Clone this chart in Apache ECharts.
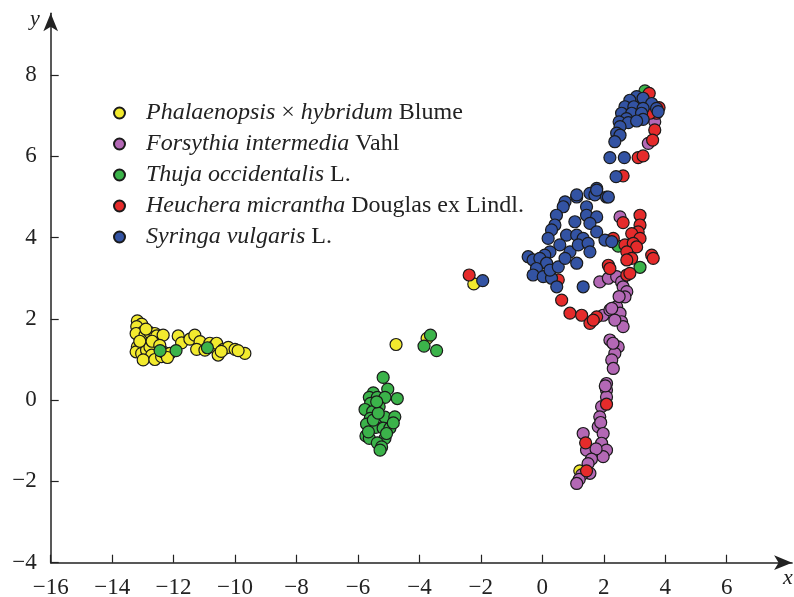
<!DOCTYPE html>
<html><head><meta charset="utf-8">
<script src="https://cdn.jsdelivr.net/npm/echarts@6/dist/echarts.min.js"></script>
<style>html,body{margin:0;padding:0;background:#fff}#c{width:794px;height:597px}</style>
</head><body><div id="c"></div>
<script>
const xTicks = [-16,-14,-12,-10,-8,-6,-4,-2,0,2,4,6];
const yTicks = [-4,-2,0,2,4,6,8];
const seriesNames = ['Phalaenopsis', 'Forsythia', 'Thuja', 'Heuchera', 'Syringa'];
const legendLabels = [
  '{i|Phalaenopsis} × {i|hybridum} Blume',
  '{i|Forsythia intermedia} Vahl',
  '{i|Thuja occidentalis} L.',
  '{i|Heuchera micrantha} Douglas ex Lindl.',
  '{i|Syringa vulgaris} L.'
];
const yellowPts = [
[-13.18,1.95],[-13.04,1.87],[-13.20,1.81],[-12.99,1.68],[-13.22,1.64],[-12.93,1.60],[-12.77,1.66],[-12.61,1.64],[-12.55,1.58],[-12.34,1.60],
[-13.01,1.36],[-13.18,1.31],[-13.22,1.19],[-13.04,1.15],[-12.88,1.23],[-12.77,1.31],[-12.71,1.11],[-12.99,0.99],[-12.61,1.00],[-12.39,1.07],
[-12.34,1.19],[-12.12,1.15],[-11.85,1.58],[-11.74,1.41],[-11.47,1.50],[-11.31,1.60],[-11.14,1.44],[-11.25,1.25],[-10.98,1.23],[-10.82,1.40],
[-10.71,1.31],[-10.60,1.40],[-10.55,1.11],[-10.38,1.25],[-10.22,1.30],[-10.00,1.25],[-9.68,1.15],[-12.90,1.75],[-13.10,1.45],[-12.70,1.45],
[-12.45,1.35],[-12.20,1.05],[-10.45,1.20],[-9.90,1.22],
[-4.76,1.37],[-3.75,1.52],[-2.23,2.86],[1.22,-1.74]
];
const purplePts = [
[3.66,6.85],[3.45,6.32],
[2.53,4.51],[1.87,2.91],[2.15,3.00],[2.42,3.04],[2.58,2.91],[2.63,2.79],[2.75,2.67],[2.69,2.54],[1.98,2.09],[2.20,2.22],[2.42,2.30],[2.53,2.14],
[2.58,1.93],[2.63,1.81],[2.36,1.97],[2.26,2.26],[2.50,2.55],
[2.20,1.48],[2.47,1.31],[2.36,1.15],[2.26,0.99],[2.31,0.78],[2.30,1.40],[2.09,0.41],[2.09,0.25],[2.09,0.08],[2.05,0.35],[1.93,-0.16],
[1.87,-0.41],[1.82,-0.65],[1.90,-0.55],[1.98,-0.82],[1.33,-0.82],[1.93,-1.06],[2.09,-1.23],[1.71,-1.31],[1.44,-1.23],[1.98,-1.39],
[1.75,-1.20],[1.60,-1.45],[1.49,-1.56],[1.55,-1.80],[1.28,-1.84],[1.20,-1.95],[1.12,-2.05]
];
const greenPts = [
[-12.44,1.22],[-11.92,1.22],[-10.90,1.29],[-3.64,1.60],[-3.85,1.33],[-3.44,1.22],
[-5.18,0.56],[-5.03,0.27],[-4.72,0.04],[-5.50,0.18],[-5.63,0.07],[-5.37,0.07],[-5.12,0.07],[-5.59,-0.08],[-5.31,-0.16],[-5.77,-0.23],
[-5.52,-0.28],[-5.60,-0.45],[-5.12,-0.42],[-4.80,-0.41],[-5.72,-0.59],[-5.42,-0.67],[-5.18,-0.69],[-4.96,-0.69],[-4.85,-0.56],[-5.74,-0.88],
[-5.63,-0.94],[-5.12,-0.94],[-5.37,-1.05],[-5.23,-1.15],[-5.28,-1.23],[-5.50,-0.49],[-5.34,-0.32],[-5.66,-0.78],[-5.07,-0.82],[-5.39,-0.04],
[3.18,3.27],[2.47,3.79],[3.34,7.61]
];
const redPts = [
[-2.38,3.08],
[3.48,7.55],[3.72,7.06],[3.50,7.06],[3.80,7.20],[3.66,6.65],[3.59,6.40],[3.12,5.97],[3.28,6.01],[2.63,5.52],
[3.18,4.55],[2.63,4.37],[3.18,4.31],[3.12,4.14],[2.91,4.10],[2.31,3.98],[3.18,3.98],[2.69,3.82],[2.96,3.86],[3.07,3.77],
[2.75,3.65],[2.91,3.49],[2.75,3.45],[3.56,3.57],[3.61,3.49],[2.15,3.32],[2.20,3.24],[2.75,3.08],[2.85,3.12],
[0.52,2.96],[0.63,2.46],[0.90,2.14],[1.28,2.09],[1.55,1.89],[1.77,2.05],[1.66,1.97],
[2.09,-0.10],[1.41,-1.05],[1.44,-1.74]
];
const bluePts = [
[-1.94,2.94],
[3.07,7.47],[2.85,7.38],[3.28,7.43],[3.56,7.30],[3.72,7.18],[2.69,7.22],[2.98,7.22],[3.28,7.18],[2.58,7.06],[2.91,7.06],
[3.23,7.06],[2.74,6.93],[3.28,6.91],[2.50,6.85],[2.80,6.83],[3.07,6.87],[2.53,6.73],[2.42,6.57],[2.53,6.52],[2.36,6.36],
[3.77,7.10],[2.20,5.97],[2.67,5.97],[2.40,5.50],
[1.77,5.21],[1.55,5.09],[1.71,5.05],[2.09,5.00],[1.12,5.00],[0.74,4.88],[0.68,4.76],[1.44,4.76],[0.46,4.55],[1.06,4.39],
[1.44,4.55],[1.77,4.51],[1.55,4.35],[0.41,4.31],[0.30,4.19],[0.19,3.98],[0.79,4.06],[1.12,4.06],[1.33,3.98],[1.77,4.14],
[2.04,3.94],[2.26,3.90],[0.57,3.82],[0.90,3.65],[1.17,3.82],[1.49,3.86],[1.55,3.65],[0.25,3.65],[0.08,3.57],[-0.46,3.53],
[-0.30,3.45],[-0.08,3.49],[0.14,3.37],[-0.19,3.24],[-0.30,3.08],[0.03,3.04],[0.30,3.00],[0.25,3.20],[0.52,3.28],[1.12,3.37],
[0.47,2.79],[1.33,2.79],[0.74,3.49],[1.12,5.05],[1.77,5.17],[2.15,5.00]
];
const pointSets = [yellowPts, purplePts, greenPts, redPts, bluePts];
const colors = ['#f2ea2e', '#b368b5', '#3bb34a', '#e52b2b', '#3353a3'];

const fam = '"Liberation Serif", "DejaVu Serif", serif';
const chart = echarts.init(document.getElementById('c'), null, {renderer: 'canvas'});
const minus = v => String(v).replace('-', '\u2212');
chart.setOption({
  animation: false,
  backgroundColor: '#fff',
  textStyle: {fontFamily: fam},
  grid: {left: 50.7, top: 13.3, width: 741.4, height: 549.4, containLabel: false, outerBoundsMode: 'none'},
  xAxis: {
    type: 'value', min: -16, max: 8.13, interval: 2,
    axisLine: {onZero: false, lineStyle: {color: '#222', width: 1.5}, symbol: ['none', 'arrow'], symbolSize: [11, 18]},
    axisTick: {inside: true, length: 8, lineStyle: {color: '#222', width: 1.2}, customValues: xTicks},
    axisLabel: {customValues: xTicks, formatter: minus, color: '#222', fontSize: 23, fontFamily: fam, margin: 14},
    splitLine: {show: false}
  },
  yAxis: {
    type: 'value', min: -4, max: 9.52, interval: 2,
    axisLine: {onZero: false, lineStyle: {color: '#222', width: 1.5}, symbol: ['none', 'arrow'], symbolSize: [11, 18]},
    axisTick: {inside: true, length: 8, lineStyle: {color: '#222', width: 1.2}, customValues: yTicks},
    axisLabel: {customValues: yTicks, formatter: minus, color: '#222', fontSize: 23, fontFamily: fam, margin: 14},
    splitLine: {show: false}
  },
  legend: {
    orient: 'vertical', left: 113, top: 101, padding: 0, itemGap: 7,
    itemWidth: 11, itemHeight: 11, icon: 'circle',
    data: seriesNames,
    formatter: name => legendLabels[seriesNames.indexOf(name)],
    textStyle: {
      fontFamily: fam, fontSize: 24, color: '#222', lineHeight: 24, padding: [0, 0, 0, 16],
      rich: {i: {fontStyle: 'italic', fontFamily: fam, fontSize: 24, color: '#222', lineHeight: 24}}
    }
  },
  graphic: [
    {type: 'text', left: 30, top: 8, style: {text: 'y', font: 'italic 22px ' + fam, fill: '#222'}},
    {type: 'text', left: 783, top: 567, style: {text: 'x', font: 'italic 22px ' + fam, fill: '#222'}}
  ],
  series: seriesNames.map((n, i) => ({
    name: n, type: 'scatter', data: pointSets[i], symbolSize: 12,
    itemStyle: {color: colors[i], borderColor: '#1a1a1a', borderWidth: 1.2, opacity: 1}
  }))
});
</script></body></html>
